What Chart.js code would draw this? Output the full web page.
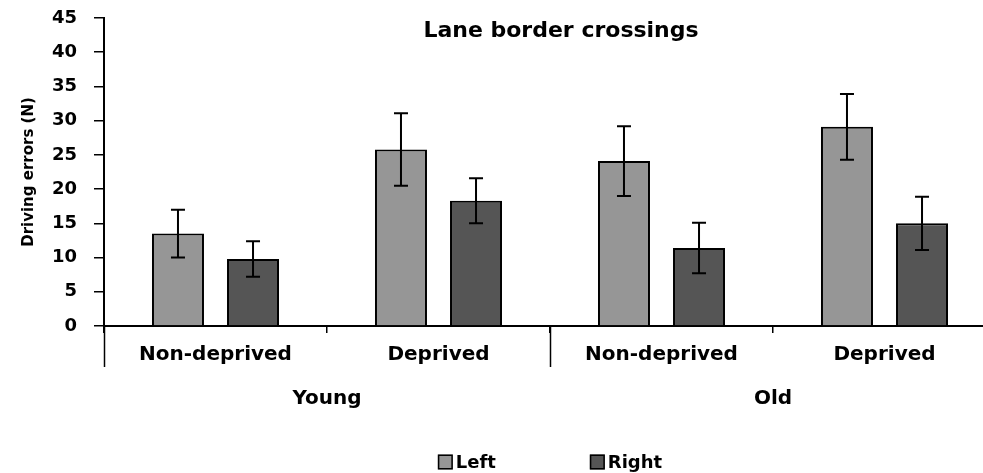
<!DOCTYPE html>
<html>
<head>
<meta charset="utf-8">
<title>Lane border crossings</title>
<script src="https://cdn.jsdelivr.net/npm/chart.js"></script>
<style>
  html, body { margin: 0; padding: 0; background: #fff; overflow: hidden; }
  #wrap { position: relative; width: 996px; height: 473px; }
</style>
</head>
<body>
<div id="wrap"><canvas id="chart"></canvas></div>
<script>
const categories = ["Non-deprived", "Deprived", "Non-deprived", "Deprived"];
const groups = ["Young", "Old"];
const seriesNames = ["Left", "Right"];

// mean number of lane border crossings, with error bar half-lengths
const leftMeans = [13.5, 25.8, 24.1, 29.1];
const leftErrors = [3.5, 5.3, 5.1, 4.8];
const rightMeans = [9.8, 18.3, 11.4, 15.0];
const rightErrors = [2.6, 3.3, 3.7, 3.9];

const yTicks = { min: 0, max: 45, step: 5 };

const FONT = "'DejaVu Sans', sans-serif";
Chart.defaults.font.family = FONT;
Chart.defaults.font.weight = "bold";
Chart.defaults.color = "#000";

// draws the +/- error whiskers on top of every bar
const errorBars = {
  id: "errorBars",
  afterDatasetsDraw(chart) {
    const ctx = chart.ctx;
    const y = chart.scales.y;
    ctx.save();
    ctx.strokeStyle = "#000";
    ctx.lineWidth = 2;
    chart.data.datasets.forEach((ds, i) => {
      const meta = chart.getDatasetMeta(i);
      meta.data.forEach((bar, j) => {
        const v = ds.data[j];
        const e = ds.errors[j];
        const top = y.getPixelForValue(v + e);
        const bot = y.getPixelForValue(v - e);
        const cap = 7;
        ctx.beginPath();
        ctx.moveTo(bar.x, top);
        ctx.lineTo(bar.x, bot);
        ctx.moveTo(bar.x - cap, top);
        ctx.lineTo(bar.x + cap, top);
        ctx.moveTo(bar.x - cap, bot);
        ctx.lineTo(bar.x + cap, bot);
        ctx.stroke();
      });
    });
    ctx.restore();
  },
};

// long dividers between the age groups, the chart title and the legend row
const decorations = {
  id: "decorations",
  afterDraw(chart) {
    const ctx = chart.ctx;
    const area = chart.chartArea;
    const x = chart.scales.x;
    const x2 = chart.scales.x2;
    ctx.save();

    ctx.strokeStyle = "#000";
    ctx.lineWidth = 1.5;
    const groupWidth = x2.width / groups.length;
    for (let g = 0; g < groups.length; g++) {
      const gx = Math.round(x2.left + g * groupWidth) + 0.5;
      ctx.beginPath();
      ctx.moveTo(gx, area.bottom);
      ctx.lineTo(gx, x.bottom + 1);
      ctx.stroke();
    }

    ctx.fillStyle = "#000";
    ctx.font = "bold 22px " + FONT;
    ctx.textAlign = "center";
    ctx.textBaseline = "alphabetic";
    ctx.fillText("Lane border crossings", (area.left + area.right) / 2 + 11, 37);

    // legend
    ctx.font = "bold 18px " + FONT;
    ctx.textAlign = "left";
    ctx.textBaseline = "middle";
    const box = 15, gap = 3, spacing = 152, ly = 462;
    const items = chart.data.datasets;
    const lastW = box + gap + ctx.measureText(items[items.length - 1].label).width;
    let lx = (area.left + area.right) / 2 - ((items.length - 1) * spacing + lastW) / 2;
    items.forEach((ds) => {
      ctx.fillStyle = ds.backgroundColor;
      ctx.fillRect(lx, ly - box / 2, box, box);
      ctx.lineWidth = 1.5;
      ctx.strokeStyle = "#000";
      ctx.strokeRect(lx + 0.75, ly - box / 2 + 0.75, box - 1.5, box - 1.5);
      ctx.fillStyle = "#000";
      ctx.fillText(ds.label, lx + box + gap, ly + 1);
      lx += spacing;
    });
    ctx.restore();
  },
};

new Chart(document.getElementById("chart"), {
  type: "bar",
  data: {
    labels: categories,
    datasets: [
      {
        label: seriesNames[0],
        data: leftMeans,
        errors: leftErrors,
        backgroundColor: "#969696",
        borderColor: "#000",
        borderWidth: 2,
        xAxisID: "x",
      },
      {
        label: seriesNames[1],
        data: rightMeans,
        errors: rightErrors,
        backgroundColor: "#555555",
        borderColor: "#000",
        borderWidth: 2,
        xAxisID: "x",
      },
    ],
  },
  options: {
    responsive: true,
    maintainAspectRatio: false,
    animation: false,
    events: [],
    categoryPercentage: 0.673,
    barPercentage: 0.693,
    layout: { padding: { top: 18, right: 0, bottom: 57, left: 0 } },
    plugins: {
      legend: { display: false },
      tooltip: { enabled: false },
    },
    scales: {
      y: {
        min: yTicks.min,
        max: yTicks.max,
        ticks: { stepSize: yTicks.step, padding: 17, font: { size: 18, weight: "bold" } },
        grid: { drawOnChartArea: false, tickLength: 10, color: "#000", lineWidth: 1.5 },
        border: { color: "#000", width: 2 },
        title: {
          display: true,
          text: "Driving errors (N)",
          font: { size: 15, weight: "bold" },
          padding: { top: 20, bottom: 0 },
        },
        afterFit(scale) {
          scale.width = 104;
          // the tick padding is horizontal only; don't let it push the top label down
          scale.paddingTop = 11;
          scale.paddingBottom = 11;
        },
      },
      x: {
        offset: true,
        ticks: { padding: 10, font: { size: 20, weight: "bold" } },
        grid: { drawOnChartArea: false, offset: true, tickLength: 7, color: "#000", lineWidth: 1.5 },
        border: { color: "#000", width: 2 },
        afterFit(scale) { scale.height = 40; },
      },
      x2: {
        type: "category",
        labels: groups,
        position: "bottom",
        offset: true,
        ticks: { padding: 13, font: { size: 20, weight: "bold" } },
        grid: { display: false },
        border: { display: false },
        afterFit(scale) { scale.height = 50; },
      },
    },
  },
  plugins: [errorBars, decorations],
});
</script>
</body>
</html>
